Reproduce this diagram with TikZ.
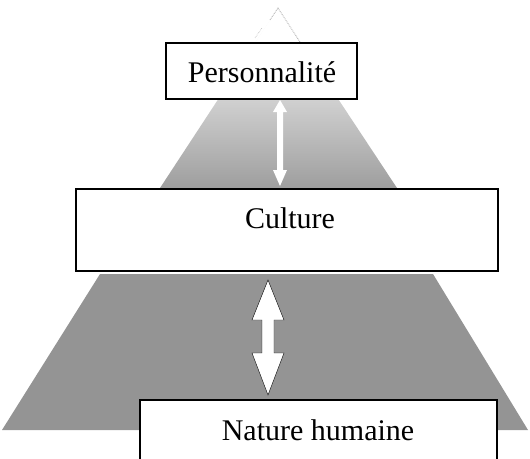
\documentclass[tikz,border=0pt]{standalone}
\usepackage{fontspec}
\setmainfont{Liberation Serif}
\begin{document}
\begin{tikzpicture}[x=1pt,y=-1pt,
  boxstyle/.style={draw=black,line width=1.4pt,fill=white},
  lbl/.style={font=\fontsize{30}{34}\selectfont,inner sep=0pt,anchor=base},
  arrowshape/.style={fill=white,draw=black,line width=0.4pt}]
\useasboundingbox (0,0) rectangle (530,458);
% upper triangle
\shade[top color=white,bottom color=black!38,middle color=black!18]
  (278,8) -- (160,188) -- (397,188) -- cycle;
\fill[white] (278,8) -- (249,52) -- (307,52) -- cycle;
\draw[gray!70,densely dotted,line width=0.8pt] (270,20) -- (278,8) -- (300,42);
\draw[gray!60,densely dotted,line width=0.6pt] (255,38) -- (262,28);
% faint arrow in triangle
\fill[white] (280,100) -- (287,112) -- (283,112) -- (283,170) -- (287,170) -- (280,186)
  -- (273,170) -- (277,170) -- (277,112) -- (273,112) -- cycle;
% lower trapezoid
\fill[black!42] (100,274) -- (433,274) -- (528,430) -- (2,430) -- cycle;
% double arrow
\draw[arrowshape] (268,280) -- (284,320) -- (274,320) -- (274,353) -- (284,353)
  -- (268,395) -- (252,353) -- (262,353) -- (262,320) -- (252,320) -- cycle;
% boxes
\draw[boxstyle] (166,43) rectangle (357,99);
\draw[boxstyle] (76,189) rectangle (498,271);
\draw[boxstyle] (140,400) rectangle (497,470);
\node[lbl] (pers) at (262,82) {Personnalité};
\node[lbl] (cult) at (290,228) {Culture};
\node[lbl] (nat) at (318,440) {Nature humaine};
\end{tikzpicture}
\end{document}
